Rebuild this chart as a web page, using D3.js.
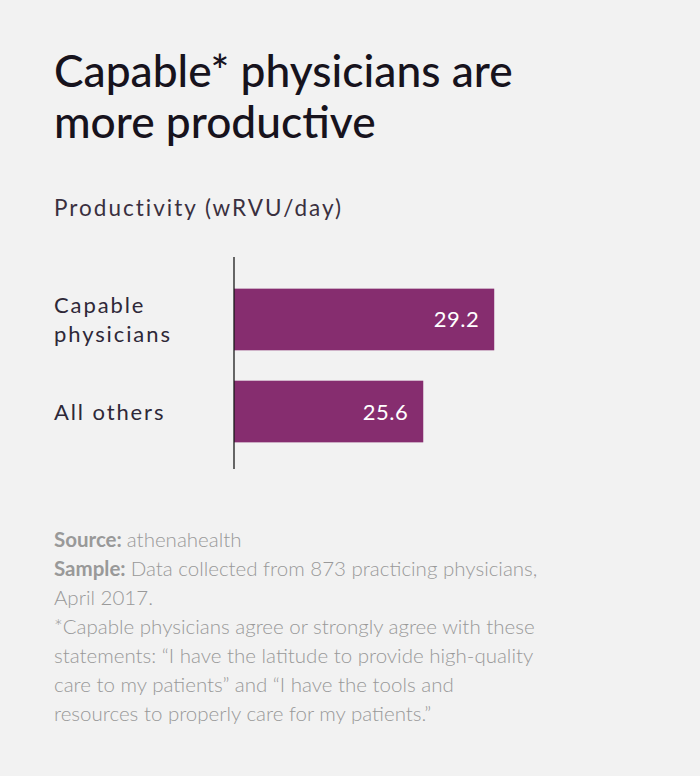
<!DOCTYPE html>
<html><head><meta charset="utf-8">
<script src="https://cdn.jsdelivr.net/npm/d3@7"></script>
<style>
html,body{margin:0;padding:0;background:#f2f2f2;}
svg{display:block;font-family:Lato, "Open Sans", sans-serif;}
</style></head>
<body>
<svg id="chart" width="700" height="776"></svg>
<script>
const categories = [["Capable", "physicians"], ["All others"]];
const values = [29.2, 25.6];
const valueLabels = ["29.2", "25.6"];
const titleLines = ["Capable* physicians are", "more productive"];
const subtitle = "Productivity (wRVU/day)";
const footer = [
  [["Source: ", true], ["athenahealth", false]],
  [["Sample: ", true], ["Data collected from 873 practicing physicians,", false]],
  [["April 2017.", false]],
  [["*Capable physicians agree or strongly agree with these", false]],
  [["statements: \u201CI have the latitude to provide high-quality", false]],
  [["care to my patients\u201D and \u201CI have the tools and", false]],
  [["resources to properly care for my patients.\u201D", false]]
];

const svg = d3.select("#chart");
svg.append("rect").attr("width",700).attr("height",776).attr("fill","#f2f2f2");

// title
svg.append("g").selectAll("text").data(titleLines).join("text")
  .attr("x",54).attr("y",(d,i)=>87+i*51)
  .attr("font-size",44.3).attr("font-weight",500).attr("fill","#17131d")
  .text(d=>d);

svg.append("text").attr("x",54).attr("y",216).attr("font-size",22.5)
  .attr("letter-spacing",2).attr("fill","#3a3040").text(subtitle);

const x = d3.scaleLinear().domain([16,30]).range([234,510]);
const y = d3.scaleBand().domain(d3.range(values.length)).range([273,458]).paddingInner(0.33).paddingOuter(0.17);

svg.append("g").selectAll("rect").data(values).join("rect")
  .attr("x",x(16)).attr("y",(d,i)=>y(i))
  .attr("width",d=>x(d)-x(16)).attr("height",y.bandwidth())
  .attr("fill","#862d6f");

svg.append("g").selectAll("text").data(values).join("text")
  .attr("x",d=>x(d)-15).attr("y",(d,i)=>y(i)+y.bandwidth()/2+8)
  .attr("text-anchor","end").attr("font-size",22).attr("letter-spacing",0.5).attr("fill","#ffffff")
  .text((d,i)=>valueLabels[i]);

// axis line
svg.append("line").attr("x1",x(16)).attr("x2",x(16)).attr("y1",257).attr("y2",469)
  .attr("stroke","#1a1a1a").attr("stroke-width",1.3);

// category labels
const lab = svg.append("g").selectAll("text").data(categories).join("text")
  .attr("font-size",22).attr("letter-spacing",1.9).attr("fill","#2e2838");
lab.each(function(d,i){
  const n=d.length, cy=y(i)+y.bandwidth()/2;
  d3.select(this).selectAll("tspan").data(d).join("tspan")
    .attr("x",54).attr("y",(t,j)=>cy+8+(j-(n-1)/2)*28.5).text(t=>t);
});

// footer
const ft = svg.append("g").selectAll("text").data(footer).join("text")
  .attr("x",54).attr("y",(d,i)=>547+i*29).attr("font-size",20.5).attr("fill","#999999");
ft.selectAll("tspan").data(d=>d).join("tspan")
  .attr("font-weight",d=>d[1]?700:300).text(d=>d[0]);
</script>
</body></html>
